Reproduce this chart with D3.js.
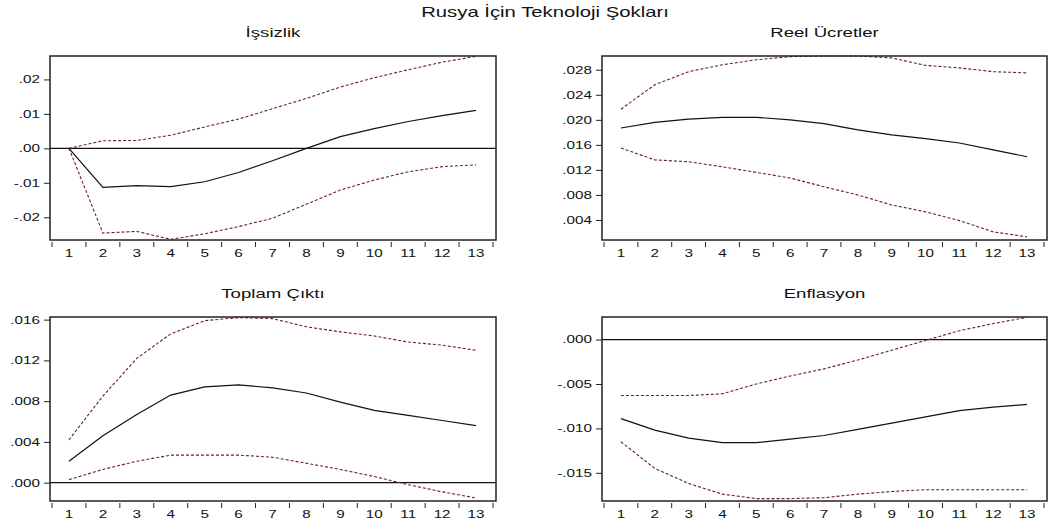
<!DOCTYPE html>
<html>
<head>
<meta charset="utf-8">
<script src="https://cdn.jsdelivr.net/npm/d3@7"></script>
<style>
  body { margin: 0; background: #fff; }
  text { font-family: "Liberation Sans", Arial, sans-serif; fill: #111; }
</style>
</head>
<body>
<div id="chart"></div>
<script>
// periods after the shock
const periods = [1, 2, 3, 4, 5, 6, 7, 8, 9, 10, 11, 12, 13];

// Issizlik (unemployment)
const issizlikMid   = [0.0000, -0.0113, -0.0108, -0.0111, -0.0097, -0.0070, -0.0036, 0.0000, 0.0034, 0.0057, 0.0078, 0.0095, 0.0110];
const issizlikUpper = [0.0000, 0.0022, 0.0023, 0.0038, 0.0062, 0.0085, 0.0115, 0.0145, 0.0178, 0.0205, 0.0228, 0.0250, 0.0267];
const issizlikLower = [0.0000, -0.0246, -0.0241, -0.0264, -0.0248, -0.0227, -0.0203, -0.0162, -0.0121, -0.0092, -0.0068, -0.0053, -0.0048];
const issizlikTicks = [-0.02, -0.01, 0.00, 0.01, 0.02];

// Reel Ucretler (real wages)
const ucretMid   = [0.0187, 0.0196, 0.0201, 0.0204, 0.0204, 0.0200, 0.0194, 0.0184, 0.0176, 0.0170, 0.0163, 0.0152, 0.0141];
const ucretUpper = [0.0217, 0.0256, 0.0277, 0.0288, 0.0296, 0.0301, 0.0302, 0.0302, 0.0299, 0.0287, 0.0283, 0.0277, 0.0275];
const ucretLower = [0.0155, 0.0136, 0.0133, 0.0125, 0.0116, 0.0107, 0.0093, 0.0080, 0.0064, 0.0053, 0.0039, 0.0021, 0.0013];
const ucretTicks = [0.004, 0.008, 0.012, 0.016, 0.020, 0.024, 0.028];

// Toplam Cikti (output)
const ciktiMid   = [0.0021, 0.0046, 0.0067, 0.0086, 0.0094, 0.0096, 0.0093, 0.0088, 0.0079, 0.0071, 0.0066, 0.0061, 0.0056];
const ciktiUpper = [0.0042, 0.0085, 0.0122, 0.0146, 0.0159, 0.0162, 0.0161, 0.0153, 0.0148, 0.0144, 0.0138, 0.0135, 0.0130];
const ciktiLower = [0.0003, 0.0013, 0.0021, 0.0027, 0.0027, 0.0027, 0.0025, 0.0019, 0.0013, 0.0006, -0.0002, -0.0009, -0.0015];
const ciktiTicks = [0.000, 0.004, 0.008, 0.012, 0.016];

// Enflasyon (inflation)
const enfMid   = [-0.0089, -0.0102, -0.0111, -0.0116, -0.0116, -0.0112, -0.0108, -0.0101, -0.0094, -0.0087, -0.0080, -0.0076, -0.0073];
const enfUpper = [-0.0063, -0.0063, -0.0063, -0.0061, -0.0050, -0.0041, -0.0033, -0.0023, -0.0012, -0.0001, 0.0010, 0.0018, 0.0025];
const enfLower = [-0.0115, -0.0145, -0.0162, -0.0174, -0.0179, -0.0179, -0.0178, -0.0174, -0.0171, -0.0169, -0.0169, -0.0169, -0.0169];
const enfTicks = [-0.015, -0.010, -0.005, 0.000];

const mainTitle = "Rusya İçin Teknoloji Şokları";

const panels = [
  {title: "İşsizlik", mid: issizlikMid, up: issizlikUpper, lo: issizlikLower, ticks: issizlikTicks, dom: [-0.0266, 0.0268], fmt: ".2f", col: 0, row: 0},
  {title: "Reel Ücretler", mid: ucretMid, up: ucretUpper, lo: ucretLower, ticks: ucretTicks, dom: [0.0008, 0.0302], fmt: ".3f", col: 1, row: 0},
  {title: "Toplam Çıktı", mid: ciktiMid, up: ciktiUpper, lo: ciktiLower, ticks: ciktiTicks, dom: [-0.0018, 0.01626], fmt: ".3f", col: 0, row: 1},
  {title: "Enflasyon", mid: enfMid, up: enfUpper, lo: enfLower, ticks: enfTicks, dom: [-0.01817, 0.00254], fmt: ".3f", col: 1, row: 1}
];

const W = 1055, H = 524;
const colX = [[50, 496], [602, 1047]];
const rowY = [[56, 240], [317, 501]];
const stretch = 1.45;   // the source picture's lettering is drawn wide

const svg = d3.select("#chart").append("svg")
  .attr("width", W).attr("height", H);

svg.append("text")
  .attr("transform", `translate(545,17) scale(${stretch},1)`)
  .attr("text-anchor", "middle")
  .style("font-size", "14px")
  .text(mainTitle);

panels.forEach(p => {
  const [x0, x1] = colX[p.col];
  const [y0, y1] = rowY[p.row];

  const x = d3.scaleBand().domain(periods).range([x0 + 2, x1 - 3]).padding(0);
  const y = d3.scaleLinear().domain(p.dom).range([y1, y0]);

  const g = svg.append("g");

  // title
  g.append("text")
    .attr("transform", `translate(${(x0 + x1) / 2},${y0 - 19}) scale(${stretch - 0.07},1)`)
    .attr("text-anchor", "middle")
    .style("font-size", "13.5px")
    .text(p.title);

  // zero line
  if (p.dom[0] < 0 && p.dom[1] > 0) {
    g.append("line")
      .attr("x1", x0).attr("x2", x1)
      .attr("y1", y(0)).attr("y2", y(0))
      .attr("stroke", "#111").attr("stroke-width", 1.2);
  }

  const fmt = d3.format(p.fmt);
  const tickFmt = v => fmt(v).replace(/\u2212/g, "-").replace(/^(-?)0\./, "$1.");

  // y axis
  const yAxis = g.append("g")
    .attr("transform", `translate(${x0},0)`)
    .call(d3.axisLeft(y).tickValues(p.ticks).tickFormat(tickFmt).tickSize(6).tickPadding(1));
  yAxis.select(".domain").remove();
  yAxis.selectAll("line").attr("stroke", "#222");
  yAxis.selectAll("text")
    .attr("transform", `scale(${stretch},1)`)
    .style("font-size", "10.5px").style("font-family", "'Liberation Sans', Arial, sans-serif");

  // x axis: ticks on the band boundaries, labels in the band centres
  const xAxis = g.append("g")
    .attr("transform", `translate(0,${y1 + 2})`)
    .call(d3.axisBottom(x).tickSize(0).tickPadding(8));
  xAxis.select(".domain").remove();
  xAxis.selectAll("text")
    .attr("transform", `scale(${stretch},1)`)
    .style("font-size", "10.5px").style("font-family", "'Liberation Sans', Arial, sans-serif");
  const bounds = periods.map(d => x(d)).concat([x(periods[periods.length - 1]) + x.bandwidth()]);
  xAxis.selectAll("line.bound").data(bounds).join("line")
    .attr("class", "bound")
    .attr("x1", d => d).attr("x2", d => d)
    .attr("y1", 0).attr("y2", 5)
    .attr("stroke", "#222");

  const line = arr => d3.line()
    .x((d, i) => x(periods[i]) + x.bandwidth() / 2)
    .y(d => y(d))(arr);

  g.append("path").attr("d", line(p.up))
    .attr("fill", "none").attr("stroke", "#6e1f1f")
    .attr("stroke-width", 1.1).attr("stroke-dasharray", "3,2");
  g.append("path").attr("d", line(p.lo))
    .attr("fill", "none").attr("stroke", "#6e1f1f")
    .attr("stroke-width", 1.1).attr("stroke-dasharray", "3,2");
  g.append("path").attr("d", line(p.mid))
    .attr("fill", "none").attr("stroke", "#111")
    .attr("stroke-width", 1.2);

  // frame
  g.append("rect")
    .attr("x", x0).attr("y", y0)
    .attr("width", x1 - x0).attr("height", y1 - y0)
    .attr("fill", "none").attr("stroke", "#222").attr("stroke-width", 1.5);
});
</script>
</body>
</html>
